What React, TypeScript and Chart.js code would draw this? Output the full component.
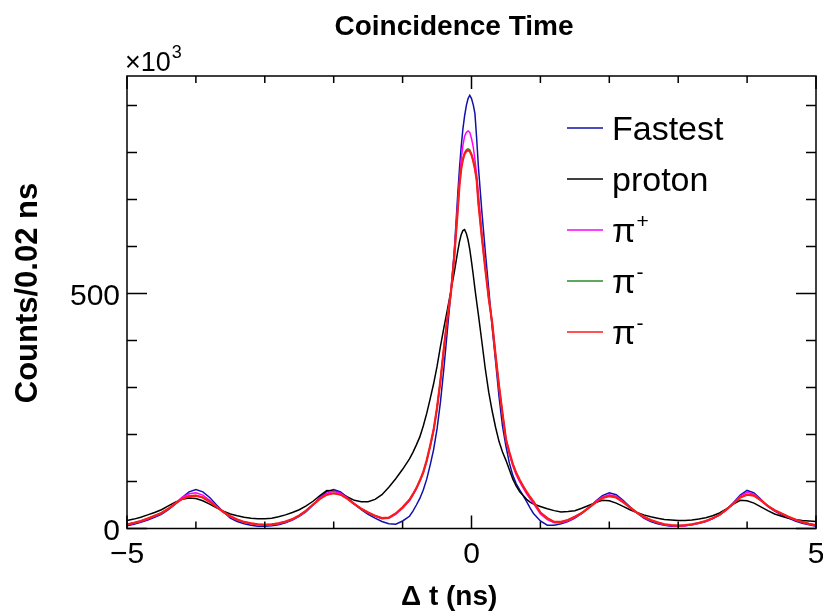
import React, { useEffect, useRef } from "react";
import { Chart, registerables } from "chart.js";

Chart.register(...registerables);

// ---- data (Δt in ns, counts in units of 10^3 per 0.02 ns) ----
const timeNs = [
  -5.0, -4.9, -4.8, -4.7, -4.6, -4.5, -4.4, -4.3, -4.2, -4.1,
  -4.0, -3.9, -3.8, -3.7, -3.6, -3.5, -3.4, -3.3, -3.2, -3.1,
  -3.0, -2.9, -2.8, -2.7, -2.6, -2.5, -2.4, -2.3, -2.2, -2.1,
  -2.0, -1.9, -1.8, -1.7, -1.6, -1.5, -1.4, -1.3, -1.2, -1.1,
  -1.0,
  -0.9, -0.85, -0.8, -0.75, -0.7, -0.65, -0.6, -0.55, -0.5, -0.45, -0.4, -0.35, -0.3, -0.25, -0.2,
  -0.175, -0.15, -0.125, -0.1, -0.075, -0.05, -0.025, 0, 0.025, 0.05, 0.075, 0.1,
  0.15, 0.2, 0.25, 0.3, 0.35, 0.4, 0.45, 0.5, 0.55, 0.6, 0.65, 0.7, 0.75, 0.8, 0.85, 0.9,
  1.0,
  1.1, 1.2, 1.3, 1.4, 1.5, 1.6, 1.7, 1.8, 1.9, 2.0,
  2.1, 2.2, 2.3, 2.4, 2.5, 2.6, 2.7, 2.8, 2.9, 3.0,
  3.1, 3.2, 3.3, 3.4, 3.5, 3.6, 3.7, 3.8, 3.9, 4.0,
  4.1, 4.2, 4.3, 4.4, 4.5, 4.6, 4.7, 4.8, 4.9, 5.0,
];

const fastest = [
  6, 9, 13, 18, 24, 30, 40, 52, 66, 78,
  83, 78, 66, 50, 35, 22, 15, 10, 7, 5,
  5, 6, 8, 12, 18, 26, 36, 50, 66, 79,
  83, 78, 66, 52, 40, 30, 22, 15, 10, 9,
  16,
  26, 37, 50, 64, 82, 105, 135, 168, 212, 270, 342, 422, 500, 590, 710,
  765, 812, 850, 878, 900, 915, 922, 915, 902, 883, 830, 770,
  675, 590, 510, 428, 355, 280, 218, 175, 139, 113, 95, 82, 70, 57, 44, 32,
  16,
  7, 7, 10, 15, 22, 32, 44, 58, 70, 76,
  72, 60, 46, 33, 22, 15, 10, 7, 5, 5,
  6, 8, 11, 15, 21, 29, 40, 55, 71, 81,
  76, 62, 47, 37, 29, 22, 16, 11, 8, 5,
];

const proton = [
  17, 20, 24, 29, 34, 40, 48, 56, 62, 65,
  64, 59, 52, 44, 37, 31, 27, 24, 22, 21,
  21, 22, 25, 29, 34, 40, 48, 58, 70, 81,
  80, 75, 67, 60, 57, 57, 62, 72, 88, 106,
  126,
  148, 162, 178, 195, 218, 245, 276, 308, 345, 388, 428, 466, 505, 545, 590,
  610, 625, 634, 636, 628, 614, 594, 568, 540, 510, 482, 455,
  398, 340, 290, 250, 215, 185, 163, 145, 125, 105, 90, 78, 70, 62, 56, 52,
  47,
  42, 38, 35, 36, 38, 43, 49, 55, 60, 59,
  54, 47, 40, 34, 29, 25, 22, 19, 18, 17,
  17, 18, 20, 23, 27, 33, 42, 52, 60, 59,
  54, 46, 38, 31, 26, 22, 19, 17, 16, 15,
];

const piPlus = [
  8, 11, 15, 20, 26, 32, 42, 54, 66, 74,
  76, 71, 60, 47, 35, 25, 18, 13, 10, 8,
  7, 8, 10, 14, 19, 27, 37, 51, 65, 75,
  79, 75, 65, 53, 42, 33, 26, 21, 22, 30,
  43,
  59, 71, 84, 100, 118, 143, 174, 208, 256, 316, 385, 450, 505, 585, 690,
  740, 785, 815, 835, 843, 846, 843, 830, 812, 785, 752, 712,
  628, 558, 492, 438, 366, 300, 242, 187, 158, 133, 114, 99, 86, 74, 63, 53,
  31,
  19, 12, 12, 16, 23, 32, 44, 57, 67, 72,
  69, 58, 45, 33, 24, 17, 12, 8, 6, 5,
  6, 8, 11, 15, 21, 29, 40, 54, 69, 77,
  73, 61, 48, 38, 31, 24, 18, 13, 9, 6,
];

const piMinusGreen = [
  9, 12, 16, 21, 27, 33, 42, 53, 63, 69,
  70, 66, 57, 46, 35, 26, 19, 14, 11, 9,
  8, 9, 11, 15, 20, 28, 38, 51, 63, 72,
  75, 72, 63, 52, 42, 34, 27, 22, 23, 32,
  45,
  61, 73, 86, 102, 120, 145, 176, 210, 257, 316, 385, 448, 500, 578, 677,
  730, 766, 787, 800, 806, 808, 806, 797, 783, 766, 742, 693,
  620, 553, 490, 438, 368, 303, 245, 190, 162, 137, 118, 103, 90, 78, 67, 57,
  34,
  22, 14, 14, 18, 25, 33, 44, 55, 65, 69,
  66, 56, 45, 34, 25, 18, 13, 9, 7, 6,
  7, 9, 12, 16, 22, 29, 40, 53, 66, 72,
  70, 60, 48, 39, 32, 25, 19, 14, 10, 7,
];

const piMinusRed = [
  9, 12, 16, 21, 27, 33, 42, 53, 63, 69,
  70, 66, 57, 46, 35, 26, 19, 14, 11, 9,
  8, 9, 11, 15, 20, 28, 38, 51, 63, 72,
  75, 72, 63, 52, 42, 34, 27, 22, 23, 32,
  45,
  61, 73, 86, 102, 120, 145, 176, 210, 257, 316, 385, 448, 500, 578, 677,
  730, 765, 785, 797, 803, 805, 803, 795, 782, 765, 742, 693,
  620, 553, 490, 438, 368, 303, 245, 190, 162, 137, 118, 103, 90, 78, 67, 57,
  34,
  22, 14, 14, 18, 25, 33, 44, 55, 65, 69,
  66, 56, 45, 34, 25, 18, 13, 9, 7, 6,
  7, 9, 12, 16, 22, 29, 40, 53, 66, 72,
  70, 60, 48, 39, 32, 25, 19, 14, 10, 7,
];

const xMajorTicks = [-5, 0, 5];
const xMinorTicks = [-4, -3, -2, -1, 1, 2, 3, 4];
const xTickLabels = ["\u22125", "0", "5"];
const yMajorTicks = [0, 500];
const yMinorTicks = [100, 200, 300, 400, 600, 700, 800, 900];
const yTickLabels = ["0", "500"];
const X_MIN = -5;
const X_MAX = 5;
const Y_MIN = 0;
const Y_MAX = 963;

const seriesNames = ["Fastest", "proton", "\u03c0", "\u03c0", "\u03c0"];
const seriesSup = ["", "", "+", "-", "-"];
const seriesColors = ["#1010aa", "#000000", "#ff00ff", "#2a8c2a", "#ff1a1a"];
const seriesWidths = [1.5, 1.5, 1.5, 1.5, 2.2];
const seriesValues = [fastest, proton, piPlus, piMinusGreen, piMinusRed];

const FONT = '"Liberation Sans", Arial, Helvetica, sans-serif';

const rootStylePlugin = {
  id: "rootStyle",
  afterDatasetsDraw(chart: any) {
    const { ctx, chartArea: a } = chart;
    const xs = chart.scales.x;
    const ys = chart.scales.y;
    ctx.save();
    ctx.strokeStyle = "#000";
    ctx.fillStyle = "#000";
    ctx.lineWidth = 1.5;
    ctx.strokeRect(a.left, a.top, a.right - a.left, a.bottom - a.top);

    const drawX = (v: number, len: number) => {
      const px = xs.getPixelForValue(v);
      ctx.beginPath();
      ctx.moveTo(px, a.bottom);
      ctx.lineTo(px, a.bottom - len);
      ctx.moveTo(px, a.top);
      ctx.lineTo(px, a.top + len);
      ctx.stroke();
    };
    const drawY = (v: number, len: number) => {
      const py = ys.getPixelForValue(v);
      ctx.beginPath();
      ctx.moveTo(a.left, py);
      ctx.lineTo(a.left + len, py);
      ctx.moveTo(a.right, py);
      ctx.lineTo(a.right - len, py);
      ctx.stroke();
    };
    xMajorTicks.forEach((v) => drawX(v, 13));
    xMinorTicks.forEach((v) => drawX(v, 7));
    yMajorTicks.forEach((v) => drawY(v, 20));
    yMinorTicks.forEach((v) => drawY(v, 10));

    // tick labels
    ctx.font = `30px ${FONT}`;
    ctx.textBaseline = "alphabetic";
    ctx.textAlign = "center";
    xMajorTicks.forEach((v, i) => {
      ctx.fillText(xTickLabels[i], xs.getPixelForValue(v), a.bottom + 34);
    });
    ctx.textAlign = "right";
    yMajorTicks.forEach((v, i) => {
      ctx.fillText(yTickLabels[i], a.left - 7, ys.getPixelForValue(v) + 11);
    });

    // exponent label
    ctx.textAlign = "left";
    ctx.font = `27px ${FONT}`;
    const base = "\u00d710";
    ctx.fillText(base, a.left - 2, a.top - 5);
    const bw = ctx.measureText(base).width;
    ctx.font = `18px ${FONT}`;
    ctx.fillText("3", a.left - 2 + bw + 1, a.top - 18);

    // title
    ctx.font = `bold 28px ${FONT}`;
    ctx.textAlign = "center";
    ctx.fillText("Coincidence Time", 454, 35);

    // x axis title
    ctx.font = `bold 28px ${FONT}`;
    ctx.textAlign = "left";
    ctx.fillText("\u0394 t (ns)", 401, 605);

    // y axis title
    ctx.save();
    ctx.translate(37, 293);
    ctx.rotate(-Math.PI / 2);
    ctx.textAlign = "center";
    ctx.font = `bold 31px ${FONT}`;
    ctx.fillText("Counts/0.02 ns", 0, 0);
    ctx.restore();

    // legend
    const legendTop = 128;
    const legendStep = 51;
    seriesNames.forEach((name, i) => {
      const yy = legendTop + i * legendStep;
      ctx.strokeStyle = seriesColors[i];
      ctx.lineWidth = 1.5;
      ctx.beginPath();
      ctx.moveTo(567, yy);
      ctx.lineTo(603, yy);
      ctx.stroke();
      ctx.fillStyle = "#000";
      ctx.font = `34px ${FONT}`;
      ctx.textAlign = "left";
      ctx.fillText(name, 612, yy + 12);
      if (seriesSup[i]) {
        const w = ctx.measureText(name).width;
        ctx.font = `21px ${FONT}`;
        ctx.fillText(seriesSup[i], 612 + w + 1, yy - 2);
      }
    });
    ctx.restore();
  },
};

export default function App() {
  const canvasRef = useRef<HTMLCanvasElement | null>(null);

  useEffect(() => {
    const canvas = canvasRef.current;
    if (!canvas) return;
    const order = [5, 4, 3, 2, 1];
    const chart = new Chart(canvas, {
      type: "line",
      data: {
        datasets: seriesValues.map((vals, k) => ({
          label: seriesNames[k] + seriesSup[k],
          data: timeNs.map((t, i) => ({ x: t, y: vals[i] })),
          borderColor: seriesColors[k],
          borderWidth: seriesWidths[k],
          pointRadius: 0,
          fill: false,
          tension: 0,
          order: order[k],
        })),
      },
      options: {
        animation: false,
        responsive: false,
        devicePixelRatio: 1,
        layout: { padding: { left: 127, right: 7, top: 76, bottom: 85.5 } },
        scales: {
          x: { type: "linear", min: X_MIN, max: X_MAX, display: false },
          y: { type: "linear", min: Y_MIN, max: Y_MAX, display: false },
        },
        plugins: {
          legend: { display: false },
          title: { display: false },
          tooltip: { enabled: false },
        },
      },
      plugins: [rootStylePlugin],
    });
    return () => chart.destroy();
  }, []);

  return (
    <div style={{ position: "fixed", left: 0, top: 0, width: 823, height: 614, background: "#fff" }}>
      <canvas ref={canvasRef} width={823} height={614} style={{ display: "block" }} />
    </div>
  );
}
